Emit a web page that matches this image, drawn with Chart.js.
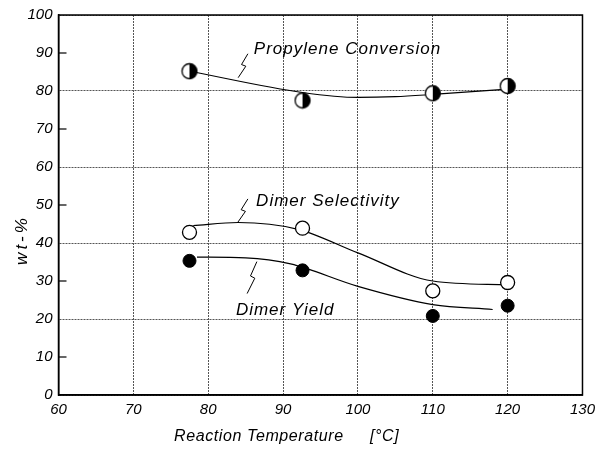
<!DOCTYPE html>
<html lang="en">
<head>
  <meta charset="UTF-8" />
  <title>Reaction Temperature vs wt-%</title>
  <script src="https://cdn.jsdelivr.net/npm/chart.js"></script>
  <style>
    html, body { margin: 0; padding: 0; background: #fff; }
    #wrap { width: 601px; height: 452px; }
  </style>
</head>
<body>
  <div id="wrap"><canvas id="tempChart" width="601" height="452"></canvas></div>

  <script>
    // Measured points
    const temps = [77.5, 92.6, 110, 120];
    const conversion = [85.2, 77.5, 79.4, 81.3];
    const selectivity = [42.8, 43.9, 27.4, 29.6];
    const dimerYield = [35.3, 32.8, 20.8, 23.5];

    // Hand-drawn trend curves (knots)
    const convCurveX = [77.5, 92.6, 100, 105, 110, 120];
    const convCurveY = [85.2, 79.6, 78.3, 78.5, 79.1, 80.5];
    const selCurveX = [78, 84, 92, 100, 110, 120];
    const selCurveY = [44.6, 45.4, 43.6, 37.4, 30.0, 29.0];
    const yieldCurveX = [78.5, 85, 91, 100, 110, 118];
    const yieldCurveY = [36.3, 36.1, 34.5, 28.6, 23.8, 22.5];

    const xTicks = [60, 70, 80, 90, 100, 110, 120, 130];
    const yTicks = [0, 10, 20, 30, 40, 50, 60, 70, 80, 90, 100];

    const FONT = "'Liberation Sans', Arial, sans-serif";

    const pts = (xs, ys) => xs.map((x, i) => ({ x: x, y: ys[i] }));

    // half-filled marker for the conversion series
    function halfMarker(r) {
      const c = document.createElement("canvas");
      const s = Math.ceil(r * 2 + 3);
      c.width = s; c.height = s;
      const g = c.getContext("2d");
      const m = s / 2;
      g.fillStyle = "#fff";
      g.beginPath(); g.arc(m, m, r, 0, Math.PI * 2); g.fill();
      g.fillStyle = "#000";
      g.beginPath(); g.moveTo(m, m - r); g.arc(m, m, r, -Math.PI / 2, Math.PI / 2); g.closePath(); g.fill();
      g.strokeStyle = "#000"; g.lineWidth = 1.3;
      g.beginPath(); g.arc(m, m, r, 0, Math.PI * 2); g.stroke();
      return c;
    }

    // curve labels with their little zigzag leaders
    const notes = [
      { text: "Propylene Conversion", x: 86.1, y: 91.1, from: [85.3, 89.8], to: [84.0, 83.5] },
      { text: "Dimer Selectivity", x: 86.4, y: 51.0, from: [85.3, 51.6], to: [83.9, 45.3] },
      { text: "Dimer Yield", x: 83.7, y: 22.3, from: [86.5, 35.1], to: [85.2, 26.7] }
    ];

    const decor = {
      id: "decor",
      afterDraw(chart) {
        const { ctx, chartArea: a, scales: { x, y } } = chart;
        ctx.save();

        // frame
        ctx.strokeStyle = "#000";
        ctx.lineWidth = 1.5;
        ctx.strokeRect(a.left, a.top, a.right - a.left, a.bottom - a.top);

        // short inner ticks where no full grid line runs
        ctx.lineWidth = 1.2;
        yTicks.filter(v => v % 20 !== 0).forEach(v => {
          const py = y.getPixelForValue(v);
          ctx.beginPath(); ctx.moveTo(a.left, py); ctx.lineTo(a.left + 8, py); ctx.stroke();
        });

        // curve labels
        ctx.fillStyle = "#000";
        ctx.font = "italic 17px " + FONT;
        ctx.letterSpacing = "1px";
        ctx.textBaseline = "middle";
        ctx.textAlign = "left";
        notes.forEach(n => {
          ctx.fillText(n.text, x.getPixelForValue(n.x), y.getPixelForValue(n.y));
          const sx = x.getPixelForValue(n.from[0]), sy = y.getPixelForValue(n.from[1]);
          const ex = x.getPixelForValue(n.to[0]), ey = y.getPixelForValue(n.to[1]);
          const lx = t => sx + (ex - sx) * t, ly = t => sy + (ey - sy) * t;
          ctx.lineWidth = 1;
          ctx.beginPath();
          ctx.moveTo(sx, sy);
          ctx.lineTo(lx(0.45) - 2, ly(0.45));
          ctx.lineTo(lx(0.52) + 3, ly(0.52));
          ctx.lineTo(ex, ey);
          ctx.stroke();
        });

        // axis titles
        ctx.font = "italic 16px " + FONT;
        ctx.letterSpacing = "0.6px";
        ctx.textAlign = "left";
        ctx.fillText("Reaction Temperature", 174, 437);
        ctx.fillText("[°C]", 370, 437);
        ctx.font = "italic 17px " + FONT;
        ctx.letterSpacing = "3px";
        ctx.textAlign = "center";
        ctx.translate(22, 240);
        ctx.rotate(-Math.PI / 2);
        ctx.fillText("wt-%", 0, 0);
        ctx.restore();
      }
    };

    const curveStyle = {
      type: "line",
      showLine: true,
      borderColor: "#000",
      borderWidth: 1.2,
      pointRadius: 0,
      cubicInterpolationMode: "monotone",
      fill: false
    };

    new Chart(document.getElementById("tempChart"), {
      type: "scatter",
      data: {
        datasets: [
          { label: "Propylene Conversion", data: pts(temps, conversion), pointStyle: halfMarker(7.5), pointRadius: 8 },
          { label: "Dimer Selectivity", data: pts(temps, selectivity), pointStyle: "circle", pointRadius: 7,
            backgroundColor: "#fff", borderColor: "#000", borderWidth: 1.3 },
          { label: "Dimer Yield", data: pts(temps, dimerYield), pointStyle: "circle", pointRadius: 6.5,
            backgroundColor: "#000", borderColor: "#000", borderWidth: 1 },
          Object.assign({ label: "conv curve", data: pts(convCurveX, convCurveY) }, curveStyle),
          Object.assign({ label: "sel curve", data: pts(selCurveX, selCurveY) }, curveStyle),
          Object.assign({ label: "yield curve", data: pts(yieldCurveX, yieldCurveY) }, curveStyle)
        ]
      },
      options: {
        responsive: false,
        animation: false,
        layout: { padding: { top: 13, right: 13, left: 0, bottom: 0 } },
        plugins: { legend: { display: false }, tooltip: { enabled: false } },
        scales: {
          x: {
            type: "linear",
            min: 60, max: 130,
            afterBuildTicks: s => { s.ticks = xTicks.map(v => ({ value: v })); },
            afterFit: s => { s.height = 57; },
            ticks: { color: "#000", padding: 6, font: { family: FONT, style: "italic", size: 15 } },
            grid: { color: "#555", lineWidth: 1, drawTicks: false },
            border: { color: "#000", width: 1.5, dash: [2, 1] }
          },
          y: {
            type: "linear",
            min: 0, max: 100,
            afterBuildTicks: s => { s.ticks = yTicks.map(v => ({ value: v })); },
            afterFit: s => { s.width = 58.5; },
            ticks: { color: "#000", padding: 6, font: { family: FONT, style: "italic", size: 15 } },
            grid: {
              color: c => (c.tick && c.tick.value % 20 === 0 ? "#555" : "rgba(0,0,0,0)"),
              lineWidth: 1, drawTicks: false
            },
            border: { color: "#000", width: 1.5, dash: [2, 1] }
          }
        }
      },
      plugins: [decor]
    });
  </script>
</body>
</html>
